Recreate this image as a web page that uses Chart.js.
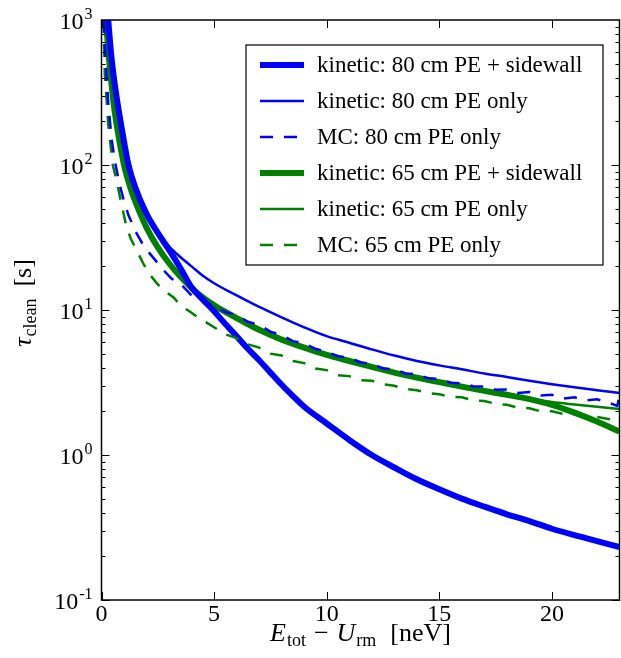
<!DOCTYPE html>
<html>
<head>
<meta charset="utf-8">
<script src="https://cdn.jsdelivr.net/npm/chart.js@4.4.1/dist/chart.umd.min.js"></script>
<style>
  html, body { margin: 0; padding: 0; background: #fff; }
  #wrap { width: 621px; height: 658px; }
</style>
</head>
<body>
<div id="wrap"><canvas id="chart" width="621" height="658"></canvas></div>
<script>
// ---------------- DATA ----------------

// kinetic: 80 cm PE + sidewall (thick blue)
const kin80SideX = [0.3, 0.4, 0.5, 0.6, 0.8, 1.0, 1.2, 1.5, 2.0, 2.5, 3.0, 3.5, 4.0, 4.5, 5.0, 5.5, 6.0, 6.5, 7.0, 7.5, 8.0, 8.5, 9.0, 10, 11, 12, 13, 14, 15, 16, 17, 18, 19, 20, 21, 22, 23];
const kin80SideY = [1000, 650, 460, 350, 220, 145, 100, 70, 46, 34, 26, 19.5, 14.3, 11.8, 9.8, 8.0, 6.6, 5.4, 4.5, 3.7, 3.05, 2.55, 2.15, 1.65, 1.27, 1.0, 0.82, 0.68, 0.58, 0.5, 0.44, 0.39, 0.35, 0.31, 0.28, 0.255, 0.232];

// kinetic: 80 cm PE only (thin blue)
const kin80X = [0.3, 0.4, 0.5, 0.6, 0.8, 1.0, 1.2, 1.5, 2.0, 2.5, 3.0, 3.5, 4.0, 4.5, 5.0, 6, 7, 8, 9, 10, 11, 12, 13, 14, 15, 16, 17, 18, 19, 20, 21, 22, 23];
const kin80Y = [1000, 650, 460, 350, 220, 145, 100, 70, 46, 34.5, 27.5, 23.2, 20.0, 17.2, 15.3, 12.6, 10.5, 8.9, 7.6, 6.6, 5.95, 5.35, 4.85, 4.45, 4.15, 3.9, 3.65, 3.45, 3.25, 3.08, 2.93, 2.8, 2.68];

// MC: 80 cm PE only (dashed blue)
const mc80X = [0.1, 0.2, 0.3, 0.45, 0.6, 0.8, 1.0, 1.2, 1.5, 1.8, 2.1, 2.5, 2.8, 3.1, 3.5, 4.0, 4.3, 4.6, 5.0, 5.5, 6.0, 6.5, 7.0, 7.5, 8.0, 8.5, 9.0, 9.5, 10.0, 10.5, 11.0, 11.5, 12.0, 12.5, 13.0, 13.5, 14.0, 14.5, 15.0, 15.5, 16.0, 16.5, 17.0, 17.5, 18.0, 18.5, 19.0, 19.5, 20.0, 20.5, 21.0, 21.5, 22.0, 22.5, 22.9, 23.0];
const mc80Y = [1000, 480, 270, 150, 105, 74, 56, 45, 35, 29, 25, 21, 18.5, 16.5, 15.2, 12.6, 12.9, 11.3, 10.6, 9.7, 9.2, 8.3, 7.9, 7.1, 6.7, 6.1, 5.9, 5.4, 5.15, 4.8, 4.7, 4.35, 4.25, 3.95, 3.9, 3.65, 3.6, 3.38, 3.35, 3.15, 3.12, 2.98, 2.97, 2.82, 2.83, 2.68, 2.72, 2.57, 2.6, 2.45, 2.5, 2.38, 2.42, 2.3, 2.18, 2.55];

// kinetic: 65 cm PE + sidewall (thick green)
const kin65SideX = [0.2, 0.3, 0.4, 0.5, 0.6, 0.8, 1.0, 1.25, 1.5, 2.0, 2.5, 3.0, 3.5, 4.0, 4.5, 5.0, 5.5, 6, 7, 8, 9, 10, 11, 12, 13, 14, 15, 16, 17, 18, 19, 20, 21, 22, 23];
const kin65SideY = [1000, 620, 420, 300, 225, 145, 100, 72, 56, 37, 27, 21, 17, 14.2, 12.2, 10.8, 9.7, 8.8, 7.3, 6.25, 5.5, 4.9, 4.45, 4.05, 3.7, 3.42, 3.18, 2.96, 2.77, 2.6, 2.43, 2.22, 1.96, 1.7, 1.45];

// kinetic: 65 cm PE only (thin green)
const kin65X = [0.2, 0.3, 0.4, 0.5, 0.6, 0.8, 1.0, 1.25, 1.5, 2.0, 2.5, 3.0, 3.5, 4.0, 4.5, 5.0, 5.5, 6, 7, 8, 9, 10, 11, 12, 13, 14, 15, 16, 17, 18, 19, 20, 21, 22, 23];
const kin65Y = [1000, 620, 420, 300, 225, 145, 100, 72, 56, 37, 27, 21, 17, 14.2, 12.2, 10.8, 9.7, 8.8, 7.3, 6.25, 5.5, 4.9, 4.45, 4.05, 3.7, 3.42, 3.18, 2.96, 2.77, 2.6, 2.45, 2.32, 2.23, 2.15, 2.08];

// MC: 65 cm PE only (dashed green)
const mc65X = [0.08, 0.15, 0.3, 0.5, 0.67, 0.85, 1.1, 1.3, 1.55, 1.85, 2.15, 2.5, 2.9, 3.2, 3.55, 3.9, 4.2, 4.6, 5.0, 5.5, 6.0, 6.5, 7.0, 7.5, 8.0, 8.5, 9.0, 9.5, 10.0, 10.5, 11.0, 11.5, 12.0, 12.5, 13.0, 13.5, 14.0, 14.5, 15.0, 15.5, 16.0, 16.5, 17.0, 17.5, 18.0, 18.5, 19.0, 19.5, 20.0, 20.5, 21.0, 21.5, 22.0, 22.5, 23.0];
const mc65Y = [1000, 420, 190, 100, 78, 57, 38, 31, 26, 21, 17.5, 15, 13.2, 12.2, 10.6, 9.8, 9.1, 8.3, 7.6, 6.8, 6.4, 5.8, 5.5, 5.0, 4.85, 4.45, 4.3, 3.95, 3.85, 3.55, 3.5, 3.28, 3.25, 3.08, 3.0, 2.85, 2.8, 2.68, 2.62, 2.52, 2.5, 2.38, 2.36, 2.25, 2.22, 2.12, 2.1, 2.0, 2.0, 1.92, 1.9, 1.84, 1.83, 1.77, 1.76];

const seriesLabels = [
    "kinetic: 80 cm PE + sidewall",
    "kinetic: 80 cm PE only",
    "MC: 80 cm PE only",
    "kinetic: 65 cm PE + sidewall",
    "kinetic: 65 cm PE only",
    "MC: 65 cm PE only"
];

const xTickValues = [0, 5, 10, 15, 20];
const yTickValues = [0.1, 1, 10, 100, 1000];
const yTickExponents = ["-1", "0", "1", "2", "3"];

// ---------------- HELPERS ----------------

const BLUE = "#0000ff";
const GREEN = "#008000";
const FONT = '"Liberation Serif", "DejaVu Serif", serif';

function pts(xs, ys) {
    return xs.map((x, i) => ({ x: x, y: ys[i] }));
}

function line(label, xs, ys, color, width, dashed, order) {
    return {
        label: label,
        data: pts(xs, ys),
        borderColor: color,
        backgroundColor: color,
        borderWidth: width,
        borderDash: dashed ? [13, 11] : [],
        pointRadius: 0,
        fill: false,
        tension: dashed ? 0 : 0.35,
        cubicInterpolationMode: dashed ? "default" : "monotone",
        clip: 0,
        order: order
    };
}

// ---------------- PLUGINS ----------------

// frame, inward ticks on all four sides, y labels with exponents
const framePlugin = {
    id: "frame",
    afterDatasetsDraw(chart) {
        const { ctx, chartArea: a, scales: { x, y } } = chart;
        ctx.save();
        ctx.strokeStyle = "#000";
        ctx.lineWidth = 1;
        ctx.beginPath();
        xTickValues.forEach(v => {
            const px = Math.round(x.getPixelForValue(v)) + 0.5;
            ctx.moveTo(px, a.bottom); ctx.lineTo(px, a.bottom - 8);
            ctx.moveTo(px, a.top); ctx.lineTo(px, a.top + 8);
        });
        for (let d = -1; d < 3; d++) {
            for (let m = 1; m < 10; m++) {
                const py = Math.round(y.getPixelForValue(m * Math.pow(10, d))) + 0.5;
                const len = m === 1 ? 8 : 4;
                ctx.moveTo(a.left, py); ctx.lineTo(a.left + len, py);
                ctx.moveTo(a.right, py); ctx.lineTo(a.right - len, py);
            }
        }
        ctx.stroke();
        ctx.lineWidth = 1.5;
        ctx.strokeRect(a.left, a.top, a.right - a.left, a.bottom - a.top);

        // y tick labels: "10" with raised exponent
        ctx.fillStyle = "#000";
        ctx.textAlign = "right";
        ctx.textBaseline = "alphabetic";
        yTickValues.forEach((v, i) => {
            const py = y.getPixelForValue(v);
            const rx = a.left - 9;
            ctx.font = "16px " + FONT;
            const ew = ctx.measureText(yTickExponents[i]).width;
            ctx.fillText(yTickExponents[i], rx, py - 1);
            ctx.font = "24px " + FONT;
            ctx.fillText("10", rx - ew - 1, py + 9);
        });
        ctx.restore();
    }
};

// boxed legend in the upper right of the plot
const legendPlugin = {
    id: "boxLegend",
    afterDraw(chart) {
        const { ctx, chartArea: a } = chart;
        const w = 357, rowH = 36;
        const right = a.right - 16.5, top = a.top + 25;
        const left = right - w;
        const n = chart.data.datasets.length;
        const h = rowH * (n - 1) + 40;
        ctx.save();
        ctx.fillStyle = "#fff";
        ctx.fillRect(left, top, w, h);
        ctx.strokeStyle = "#000";
        ctx.lineWidth = 1.2;
        ctx.strokeRect(left, top, w, h);
        chart.data.datasets.forEach((ds, i) => {
            const cy = top + 20 + i * rowH;
            ctx.strokeStyle = ds.borderColor;
            ctx.lineWidth = ds.borderWidth;
            ctx.setLineDash(ds.borderDash);
            ctx.beginPath();
            ctx.moveTo(left + 14, cy);
            ctx.lineTo(left + 58, cy);
            ctx.stroke();
            ctx.setLineDash([]);
            ctx.fillStyle = "#000";
            ctx.font = "23px " + FONT;
            ctx.textBaseline = "middle";
            ctx.fillText(ds.label, left + 71, cy + 1);
        });
        ctx.restore();
    }
};

// axis titles with subscripts; gap = extra space after a part
function drawParts(ctx, parts, x, y) {
    let total = 0;
    parts.forEach(p => {
        ctx.font = p.font;
        total += ctx.measureText(p.t).width + (p.gap || 0);
    });
    let cx = x - total / 2;
    parts.forEach(p => {
        ctx.font = p.font;
        ctx.fillText(p.t, cx, y + (p.dy || 0));
        cx += ctx.measureText(p.t).width + (p.gap || 0);
    });
}

const titlePlugin = {
    id: "titles",
    afterDraw(chart) {
        const { ctx, chartArea: a } = chart;
        const big = "26px " + FONT, bigI = "italic 26px " + FONT, sub = "18px " + FONT;
        ctx.save();
        ctx.fillStyle = "#000";
        ctx.textBaseline = "alphabetic";
        drawParts(ctx, [
            { t: "E", font: bigI, gap: 1 },
            { t: "tot", font: sub, dy: 5, gap: 8 },
            { t: "\u2212", font: big, gap: 8 },
            { t: "U", font: bigI, gap: 1 },
            { t: "rm", font: sub, dy: 5, gap: 14 },
            { t: "[neV]", font: big }
        ], (a.left + a.right) / 2, 641);
        ctx.translate(31, (a.top + a.bottom) / 2 - 7);
        ctx.rotate(-Math.PI / 2);
        drawParts(ctx, [
            { t: "\u03C4", font: bigI, gap: 1 },
            { t: "clean", font: sub, dy: 5, gap: 12 },
            { t: "[s]", font: big }
        ], 0, 0);
        ctx.restore();
    }
};

// ---------------- CHART ----------------

const ctx = document.getElementById("chart").getContext("2d");

new Chart(ctx, {
    type: "line",
    data: {
        datasets: [
            line(seriesLabels[0], kin80SideX, kin80SideY, BLUE, 6, false, 4),
            line(seriesLabels[1], kin80X, kin80Y, BLUE, 2.5, false, 3),
            line(seriesLabels[2], mc80X, mc80Y, BLUE, 2.5, true, 1),
            line(seriesLabels[3], kin65SideX, kin65SideY, GREEN, 6, false, 6),
            line(seriesLabels[4], kin65X, kin65Y, GREEN, 2.5, false, 5),
            line(seriesLabels[5], mc65X, mc65Y, GREEN, 2.5, true, 2)
        ]
    },
    options: {
        responsive: false,
        animation: false,
        layout: { padding: { top: 20, right: 1.5, left: 0, bottom: 0 } },
        plugins: {
            legend: { display: false },
            tooltip: { enabled: false }
        },
        scales: {
            x: {
                type: "linear",
                min: 0,
                max: 23,
                grid: { display: false },
                border: { display: false },
                afterBuildTicks: s => { s.ticks = xTickValues.map(v => ({ value: v })); },
                afterFit: s => { s.height = 58; },
                ticks: {
                    color: "#000",
                    padding: -8,
                    maxRotation: 0,
                    font: { family: FONT, size: 24 },
                    callback: v => String(v)
                }
            },
            y: {
                type: "logarithmic",
                min: 0.1,
                max: 1000,
                grid: { display: false },
                border: { display: false },
                afterBuildTicks: s => { s.ticks = yTickValues.map(v => ({ value: v })); },
                afterFit: s => { s.width = 101.5; },
                ticks: { display: false }
            }
        }
    },
    plugins: [framePlugin, legendPlugin, titlePlugin]
});
</script>
</body>
</html>
